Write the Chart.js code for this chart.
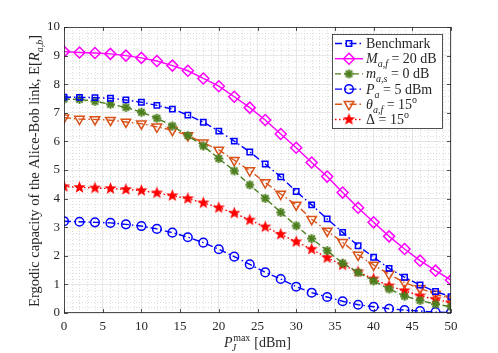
<!DOCTYPE html>
<html>
<head>
<meta charset="utf-8">
<script src="https://cdn.jsdelivr.net/npm/chart.js@4.4.1/dist/chart.umd.min.js"></script>
<style>
html, body { margin: 0; background: #fff; }
</style>
</head>
<body>
<canvas id="capChart" width="498" height="353"></canvas>
<script>
// x axis: P_J^max in dBm
var powerDbm = [0, 2, 4, 6, 8, 10, 12, 14, 16, 18, 20, 22, 24, 26, 28, 30, 32, 34, 36, 38, 40, 42, 44, 46, 48, 50];

// series
var benchmark = [7.55, 7.54, 7.53, 7.51, 7.45, 7.37, 7.26, 7.13, 6.92, 6.67, 6.36, 6.01, 5.63, 5.21, 4.76, 4.25, 3.78, 3.29, 2.82, 2.35, 1.95, 1.56, 1.25, 0.98, 0.75, 0.57];
var fadingM20 = [9.14, 9.11, 9.09, 9.06, 9.0, 8.92, 8.81, 8.65, 8.47, 8.2, 7.93, 7.56, 7.18, 6.75, 6.26, 5.78, 5.26, 4.77, 4.21, 3.68, 3.17, 2.68, 2.24, 1.83, 1.48, 1.15];
var shadowM0 = [7.48, 7.47, 7.4, 7.3, 7.19, 7.02, 6.81, 6.54, 6.2, 5.84, 5.4, 4.97, 4.48, 4.01, 3.52, 3.05, 2.6, 2.18, 1.74, 1.42, 1.12, 0.84, 0.59, 0.44, 0.31, 0.22];
var powerPa5 = [3.21, 3.19, 3.17, 3.15, 3.1, 3.04, 2.94, 2.81, 2.65, 2.46, 2.23, 1.97, 1.7, 1.42, 1.19, 0.92, 0.71, 0.56, 0.41, 0.29, 0.22, 0.15, 0.1, 0.07, 0.03, 0.02];
var theta15 = [6.83, 6.78, 6.77, 6.74, 6.68, 6.62, 6.51, 6.39, 6.21, 5.95, 5.7, 5.34, 4.98, 4.56, 4.16, 3.78, 3.28, 2.87, 2.47, 2.03, 1.68, 1.36, 1.06, 0.86, 0.66, 0.5];
var delta15 = [4.42, 4.39, 4.37, 4.35, 4.32, 4.28, 4.2, 4.1, 4.0, 3.85, 3.68, 3.49, 3.25, 3.01, 2.75, 2.49, 2.23, 1.93, 1.68, 1.44, 1.19, 0.95, 0.78, 0.6, 0.48, 0.36];

var xTicks = [0, 5, 10, 15, 20, 25, 30, 35, 40, 45, 50];
var yTicks = [0, 1, 2, 3, 4, 5, 6, 7, 8, 9, 10];

var SERIF = "'Liberation Serif', 'DejaVu Serif', serif";
var AXIS_COLOR = "#262626";

// filled pentagram marker
function makePentagram(color, r) {
  var c = document.createElement("canvas");
  var s = Math.ceil(r * 2 + 2);
  c.width = s; c.height = s;
  var g = c.getContext("2d");
  g.fillStyle = color;
  g.beginPath();
  for (var i = 0; i < 10; i++) {
    var rad = (i % 2 === 0) ? r : r * 0.42;
    var a = -Math.PI / 2 + i * Math.PI / 5;
    var px = s / 2 + rad * Math.cos(a), py = s / 2 + rad * Math.sin(a);
    if (i === 0) g.moveTo(px, py); else g.lineTo(px, py);
  }
  g.closePath();
  g.fill();
  return c;
}

// filled asterisk-like marker
function makeAsterisk(color, r) {
  var c = document.createElement("canvas");
  var s = Math.ceil(r * 2 + 2);
  c.width = s; c.height = s;
  var g = c.getContext("2d");
  g.strokeStyle = color;
  g.fillStyle = color;
  g.lineWidth = 2;
  for (var i = 0; i < 4; i++) {
    var a = i * Math.PI / 4;
    g.beginPath();
    g.moveTo(s / 2 - r * Math.cos(a), s / 2 - r * Math.sin(a));
    g.lineTo(s / 2 + r * Math.cos(a), s / 2 + r * Math.sin(a));
    g.stroke();
  }
  g.beginPath();
  g.arc(s / 2, s / 2, r * 0.5, 0, Math.PI * 2);
  g.fill();
  return c;
}

var redStar = makePentagram("#ff0000", 6.5);
var greenStar = makeAsterisk("#4d7f1f", 4.5);

function pts(ys) {
  return powerDbm.map(function(x, i) { return { x: x, y: ys[i] }; });
}

var datasets = [
  { label: "Benchmark", data: pts(benchmark), borderColor: "#0000ff", borderDash: [7, 3, 1.5, 3],
    pointStyle: "rect", pointRadius: 3.8, pointBorderWidth: 1.5, pointBorderColor: "#0000ff", pointBackgroundColor: "rgba(0,0,0,0)" },
  { label: "M", data: pts(fadingM20), borderColor: "#ff00ff", borderDash: [],
    pointStyle: "rectRot", pointRadius: 5.5, pointBorderWidth: 1.5, pointBorderColor: "#ff00ff", pointBackgroundColor: "rgba(0,0,0,0)" },
  { label: "m", data: pts(shadowM0), borderColor: "#4d7f1f", borderDash: [6, 3],
    pointStyle: greenStar, pointRadius: 4.5, pointBorderWidth: 1, pointBorderColor: "#4d7f1f", pointBackgroundColor: "#4d7f1f" },
  { label: "Pa", data: pts(powerPa5), borderColor: "#0000ff", borderDash: [7, 3, 1.5, 3],
    pointStyle: "circle", pointRadius: 4.3, pointBorderWidth: 1.5, pointBorderColor: "#0000ff", pointBackgroundColor: "rgba(0,0,0,0)" },
  { label: "theta", data: pts(theta15), borderColor: "#d95319", borderDash: [7, 3, 1.5, 3],
    pointStyle: "triangle", pointRotation: 180, pointRadius: 5.5, pointBorderWidth: 1.5, pointBorderColor: "#d95319", pointBackgroundColor: "rgba(0,0,0,0)" },
  { label: "Delta", data: pts(delta15), borderColor: "#ff0000", borderDash: [1.5, 2.5],
    pointStyle: redStar, pointRadius: 6.5, pointBorderWidth: 1, pointBorderColor: "#ff0000", pointBackgroundColor: "#ff0000" }
];
datasets.forEach(function(d) { d.borderWidth = 1.4; d.fill = false; d.tension = 0; });

var legendTexts = [
  [["Benchmark", "r"]],
  [["M", "i"], ["a,f", "sub"], [" = 20 dB", "r"]],
  [["m", "i"], ["a,s", "sub"], [" = 0 dB", "r"]],
  [["P", "i"], ["a", "sub"], [" = 5 dBm", "r"]],
  [["\u03B8", "i"], ["a,f", "sub"], [" = 15", "r"], ["o", "supr"]],
  [["\u0394 = 15", "r"], ["o", "supr"]]
];

function fontFor(style, size) {
  if (style === "i") return "italic " + size + "px " + SERIF;
  if (style === "sub" || style === "sup") return "italic " + Math.round(size * 0.7) + "px " + SERIF;
  if (style === "supr") return Math.round(size * 0.7) + "px " + SERIF;
  return size + "px " + SERIF;
}

function richWidth(ctx, parts, size) {
  var w = 0;
  parts.forEach(function(p) { ctx.font = fontFor(p[1], size); w += ctx.measureText(p[0]).width; });
  return w;
}

function drawRich(ctx, parts, x, y, size) {
  ctx.textBaseline = "alphabetic";
  ctx.textAlign = "left";
  parts.forEach(function(p) {
    ctx.font = fontFor(p[1], size);
    var dy = 0;
    if (p[1] === "sub") dy = size * 0.28;
    if (p[1] === "sup" || p[1] === "supr") dy = -size * 0.42;
    ctx.fillText(p[0], x, y + dy);
    x += ctx.measureText(p[0]).width;
  });
  return x;
}

var decorPlugin = {
  id: "decor",
  beforeDatasetsDraw: function(chart) {
    var ctx = chart.ctx, a = chart.chartArea;
    var xs = chart.scales.x, ys = chart.scales.y;
    ctx.save();
    ctx.strokeStyle = "#cfcfcf";
    ctx.lineWidth = 0.7;
    ctx.setLineDash([1, 2]);
    for (var v = 1; v < 50; v++) {
      if (v % 5 === 0) continue;
      var px = Math.round(xs.getPixelForValue(v)) + 0.5;
      ctx.beginPath(); ctx.moveTo(px, a.top); ctx.lineTo(px, a.bottom); ctx.stroke();
    }
    for (var k = 1; k < 50; k++) {
      if (k % 5 === 0) continue;
      var py = Math.round(ys.getPixelForValue(k / 5)) + 0.5;
      ctx.beginPath(); ctx.moveTo(a.left, py); ctx.lineTo(a.right, py); ctx.stroke();
    }
    ctx.restore();
  },
  afterDraw: function(chart) {
    var ctx = chart.ctx, a = chart.chartArea;
    var xs = chart.scales.x, ys = chart.scales.y;
    ctx.save();
    // box and inner ticks
    ctx.strokeStyle = AXIS_COLOR;
    ctx.lineWidth = 0.8;
    ctx.setLineDash([]);
    ctx.strokeRect(a.left + 0.5, a.top + 0.5, a.right - a.left - 1, a.bottom - a.top - 1);
    ctx.beginPath();
    xTicks.forEach(function(v) {
      var px = Math.round(xs.getPixelForValue(v)) + 0.5;
      ctx.moveTo(px, a.bottom); ctx.lineTo(px, a.bottom - 4);
      ctx.moveTo(px, a.top); ctx.lineTo(px, a.top + 4);
    });
    yTicks.forEach(function(v) {
      var py = Math.round(ys.getPixelForValue(v)) + 0.5;
      ctx.moveTo(a.left, py); ctx.lineTo(a.left + 4, py);
      ctx.moveTo(a.right, py); ctx.lineTo(a.right - 4, py);
    });
    ctx.stroke();

    // legend
    var lx = 332, ly = 34, lw = 111, lh = 95;
    ctx.fillStyle = "#ffffff";
    ctx.fillRect(lx, ly, lw, lh);
    ctx.strokeStyle = AXIS_COLOR;
    ctx.lineWidth = 0.8;
    ctx.strokeRect(lx + 0.5, ly + 0.5, lw - 1, lh - 1);
    for (var i = 0; i < datasets.length; i++) {
      var d = chart.data.datasets[i];
      var rowY = 43.5 + i * 15.2;
      ctx.strokeStyle = d.borderColor;
      ctx.lineWidth = d.borderWidth;
      ctx.setLineDash(d.borderDash);
      ctx.beginPath(); ctx.moveTo(335, rowY); ctx.lineTo(363, rowY); ctx.stroke();
      ctx.setLineDash([]);
      ctx.strokeStyle = d.pointBorderColor;
      ctx.fillStyle = d.pointBackgroundColor;
      ctx.lineWidth = d.pointBorderWidth;
      Chart.helpers.drawPoint(ctx, {
        pointStyle: d.pointStyle, radius: d.pointRadius, rotation: d.pointRotation || 0,
        borderWidth: d.pointBorderWidth
      }, 349, rowY);
      ctx.fillStyle = AXIS_COLOR;
      drawRich(ctx, legendTexts[i], 366, rowY + 4.5, 14);
    }

    // x title
    ctx.fillStyle = AXIS_COLOR;
    var size = 14;
    ctx.font = fontFor("i", size);
    var wP = ctx.measureText("P").width;
    ctx.font = fontFor("supr", size);
    var wMax = ctx.measureText("max").width;
    ctx.font = fontFor("r", size);
    var wRest = ctx.measureText(" [dBm]").width;
    var total = wP + wMax + wRest + 1;
    var cx = (a.left + a.right) / 2 - total / 2;
    var by = 347;
    ctx.textAlign = "left";
    ctx.textBaseline = "alphabetic";
    ctx.font = fontFor("i", size);
    ctx.fillText("P", cx, by);
    ctx.font = fontFor("sub", size);
    ctx.fillText("J", cx + wP - 1, by + 3.5);
    ctx.font = fontFor("supr", size);
    ctx.fillText("max", cx + wP + 0.5, by - 6);
    ctx.font = fontFor("r", size);
    ctx.fillText(" [dBm]", cx + wP + wMax + 1, by);

    // y title
    var yParts = [["Ergodic capacity of the Alice-Bob link, E[", "r"], ["R", "i"], ["a,b", "sub"], ["]", "r"]];
    var ySize = 14.5;
    var yw = richWidth(ctx, yParts, ySize);
    ctx.translate(39, (a.top + a.bottom) / 2 + 1);
    ctx.rotate(-Math.PI / 2);
    drawRich(ctx, yParts, -yw / 2, 0, ySize);
    ctx.restore();
  }
};

new Chart(document.getElementById("capChart"), {
  type: "line",
  data: { datasets: datasets },
  options: {
    responsive: false,
    animation: false,
    layout: { padding: { top: 27, right: 47, left: 0, bottom: 0 } },
    plugins: { legend: { display: false }, tooltip: { enabled: false } },
    scales: {
      x: {
        type: "linear", min: 0, max: 50,
        afterFit: function(s) { s.height = 40; },
        afterBuildTicks: function(s) { s.ticks = xTicks.map(function(v) { return { value: v }; }); },
        ticks: { padding: 6, font: { family: SERIF, size: 13 }, color: AXIS_COLOR, maxRotation: 0 },
        grid: { color: "#e2e2e2", lineWidth: 0.8, drawTicks: false },
        border: { display: false }
      },
      y: {
        type: "linear", min: 0, max: 10,
        afterFit: function(s) { s.width = 64; },
        afterBuildTicks: function(s) { s.ticks = yTicks.map(function(v) { return { value: v }; }); },
        ticks: { padding: 4, font: { family: SERIF, size: 13 }, color: AXIS_COLOR },
        grid: { color: "#e2e2e2", lineWidth: 0.8, drawTicks: false },
        border: { display: false }
      }
    }
  },
  plugins: [decorPlugin]
});
</script>
</body>
</html>
